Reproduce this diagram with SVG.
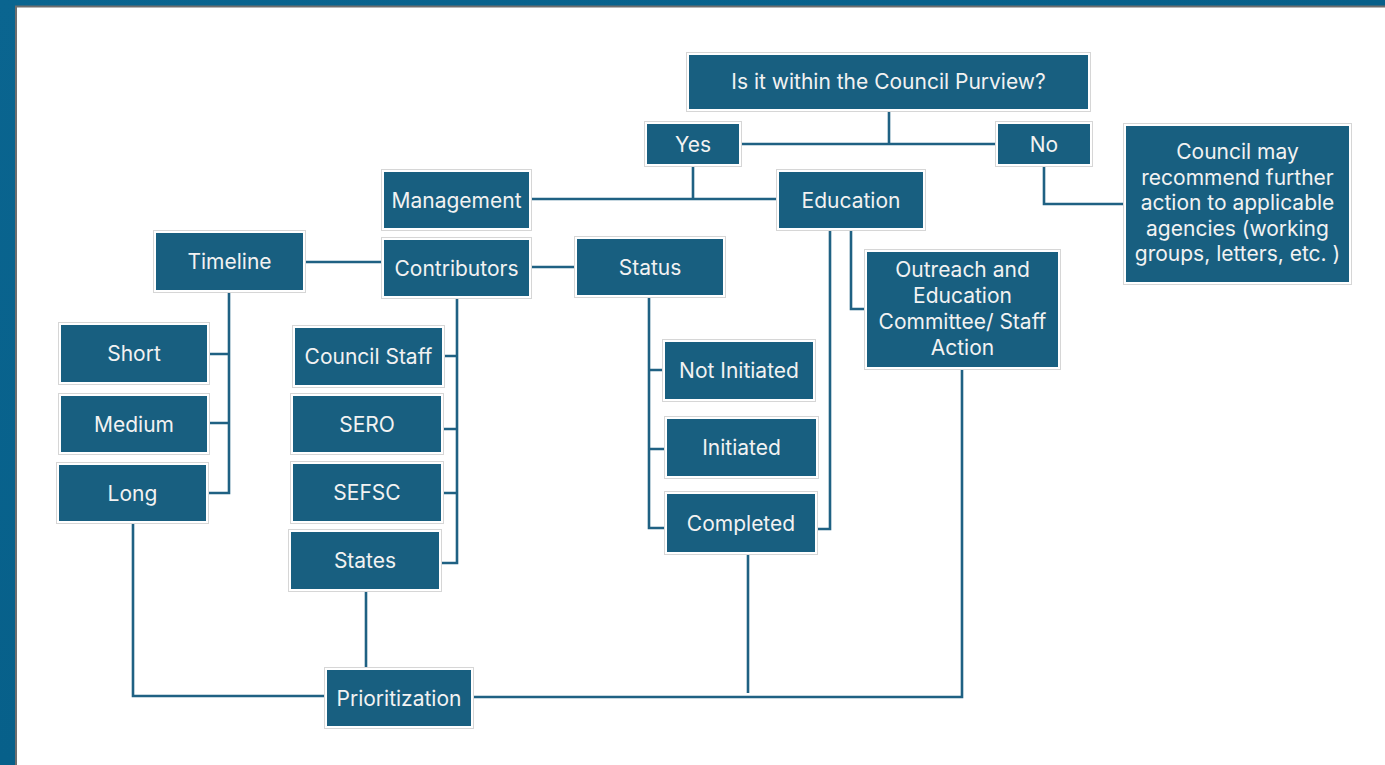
<svg xmlns="http://www.w3.org/2000/svg" width="1385" height="765" viewBox="0 0 1385 765">
<defs>
<linearGradient id="bg" x1="0" y1="0" x2="1" y2="1">
<stop offset="0" stop-color="#0a6590"/>
<stop offset="0.5" stop-color="#07608a"/>
<stop offset="1" stop-color="#053f68"/>
</linearGradient>
<style>
.frame{fill:#ffffff;stroke:#d6d6d6;stroke-width:1}
.box{fill:#185f80}
.t{font-family:Inter,"Liberation Sans",Arial,sans-serif;font-size:21px;fill:#f2f2f2;text-anchor:middle}
.c{fill:none;stroke:#1f6183;stroke-width:2.6;stroke-linejoin:miter}
</style>
</defs>
<rect x="0" y="0" width="1385" height="765" fill="url(#bg)"/>
<rect x="16" y="6.5" width="1380" height="770" fill="#ffffff" stroke="#6e6e6e" stroke-width="2"/>

<g id="connectors">
<path class="c" d="M889 109 V144 M739 144 H998"/>
<path class="c" d="M693 164 V199 M529 199 H779"/>
<path class="c" d="M1044 164 V204 H1126"/>
<path class="c" d="M851 230 V309 H867"/>
<path class="c" d="M830 230 V529 H815"/>
<path class="c" d="M303 262 H384"/>
<path class="c" d="M529 267 H577"/>
<path class="c" d="M457 296 V563 H439 M442 356 H457 M441 429 H457 M441 493 H457"/>
<path class="c" d="M649 295 V528 H667 M649 370 H665 M649 449 H667"/>
<path class="c" d="M229 290 V493 H206 M207 354 H229 M207 423 H229"/>
<path class="c" d="M133 521 V696 H327"/>
<path class="c" d="M366 589 V670"/>
<path class="c" d="M471 697 H962 V367"/>
<path class="c" d="M748 552 V693"/>
</g>

<g id="n-purview"><rect class="frame" x="686.5" y="52.5" width="404" height="59"/><rect class="box" x="689" y="55" width="399" height="54"/><text class="t" x="888.5" y="88.5">Is it within the Council Purview?</text></g>
<g id="n-yes"><rect class="frame" x="644.5" y="121.5" width="97" height="45"/><rect class="box" x="647" y="124" width="92" height="40"/><text class="t" x="693" y="151.5">Yes</text></g>
<g id="n-no"><rect class="frame" x="995.5" y="121.5" width="97" height="45"/><rect class="box" x="998" y="124" width="92" height="40"/><text class="t" x="1044" y="151.5">No</text></g>
<g id="n-council-may"><rect class="frame" x="1123.5" y="123.5" width="228" height="161"/><rect class="box" x="1126" y="126" width="223" height="156"/><text class="t" x="1237.5" y="159">Council may</text><text class="t" x="1237.5" y="184.5">recommend further</text><text class="t" x="1237.5" y="210">action to applicable</text><text class="t" x="1237.5" y="235.5">agencies (working</text><text class="t" x="1237.5" y="261">groups, letters, etc. )</text></g>
<g id="n-management"><rect class="frame" x="381.5" y="169.5" width="150" height="61"/><rect class="box" x="384" y="172" width="145" height="56"/><text class="t" x="456.5" y="207.5">Management</text></g>
<g id="n-education"><rect class="frame" x="776.5" y="169.5" width="149" height="61"/><rect class="box" x="779" y="172" width="144" height="56"/><text class="t" x="851" y="207.5">Education</text></g>
<g id="n-contributors"><rect class="frame" x="381.5" y="237.5" width="150" height="61"/><rect class="box" x="384" y="240" width="145" height="56"/><text class="t" x="456.5" y="275.5">Contributors</text></g>
<g id="n-status"><rect class="frame" x="574.5" y="236.5" width="151" height="61"/><rect class="box" x="577" y="239" width="146" height="56"/><text class="t" x="650" y="274.5">Status</text></g>
<g id="n-timeline"><rect class="frame" x="153.5" y="230.5" width="152" height="62"/><rect class="box" x="156" y="233" width="147" height="57"/><text class="t" x="229.5" y="269">Timeline</text></g>
<g id="n-outreach"><rect class="frame" x="864.5" y="249.5" width="196" height="120"/><rect class="box" x="867" y="252" width="191" height="115"/><text class="t" x="962.5" y="277">Outreach and</text><text class="t" x="962.5" y="303">Education</text><text class="t" x="962.5" y="329">Committee/ Staff</text><text class="t" x="962.5" y="354.5">Action</text></g>
<g id="n-short"><rect class="frame" x="58.5" y="322.5" width="151" height="62"/><rect class="box" x="61" y="325" width="146" height="57"/><text class="t" x="134" y="361">Short</text></g>
<g id="n-medium"><rect class="frame" x="58.5" y="393.5" width="151" height="61"/><rect class="box" x="61" y="396" width="146" height="56"/><text class="t" x="134" y="431.5">Medium</text></g>
<g id="n-long"><rect class="frame" x="56.5" y="462.5" width="152" height="61"/><rect class="box" x="59" y="465" width="147" height="56"/><text class="t" x="132.5" y="500.5">Long</text></g>
<g id="n-council-staff"><rect class="frame" x="292.5" y="325.5" width="152" height="62"/><rect class="box" x="295" y="328" width="147" height="57"/><text class="t" x="368.5" y="364">Council Staff</text></g>
<g id="n-sero"><rect class="frame" x="290.5" y="393.5" width="153" height="61"/><rect class="box" x="293" y="396" width="148" height="56"/><text class="t" x="367" y="431.5">SERO</text></g>
<g id="n-sefsc"><rect class="frame" x="290.5" y="461.5" width="153" height="62"/><rect class="box" x="293" y="464" width="148" height="57"/><text class="t" x="367" y="500">SEFSC</text></g>
<g id="n-states"><rect class="frame" x="288.5" y="529.5" width="153" height="62"/><rect class="box" x="291" y="532" width="148" height="57"/><text class="t" x="365" y="568">States</text></g>
<g id="n-not-initiated"><rect class="frame" x="662.5" y="339.5" width="153" height="62"/><rect class="box" x="665" y="342" width="148" height="57"/><text class="t" x="739" y="378">Not Initiated</text></g>
<g id="n-initiated"><rect class="frame" x="664.5" y="416.5" width="154" height="62"/><rect class="box" x="667" y="419" width="149" height="57"/><text class="t" x="741.5" y="455">Initiated</text></g>
<g id="n-completed"><rect class="frame" x="664.5" y="491.5" width="153" height="63"/><rect class="box" x="667" y="494" width="148" height="58"/><text class="t" x="741" y="530.5">Completed</text></g>
<g id="n-prioritization"><rect class="frame" x="324.5" y="667.5" width="149" height="61"/><rect class="box" x="327" y="670" width="144" height="56"/><text class="t" x="399" y="705.5">Prioritization</text></g>
</svg>
